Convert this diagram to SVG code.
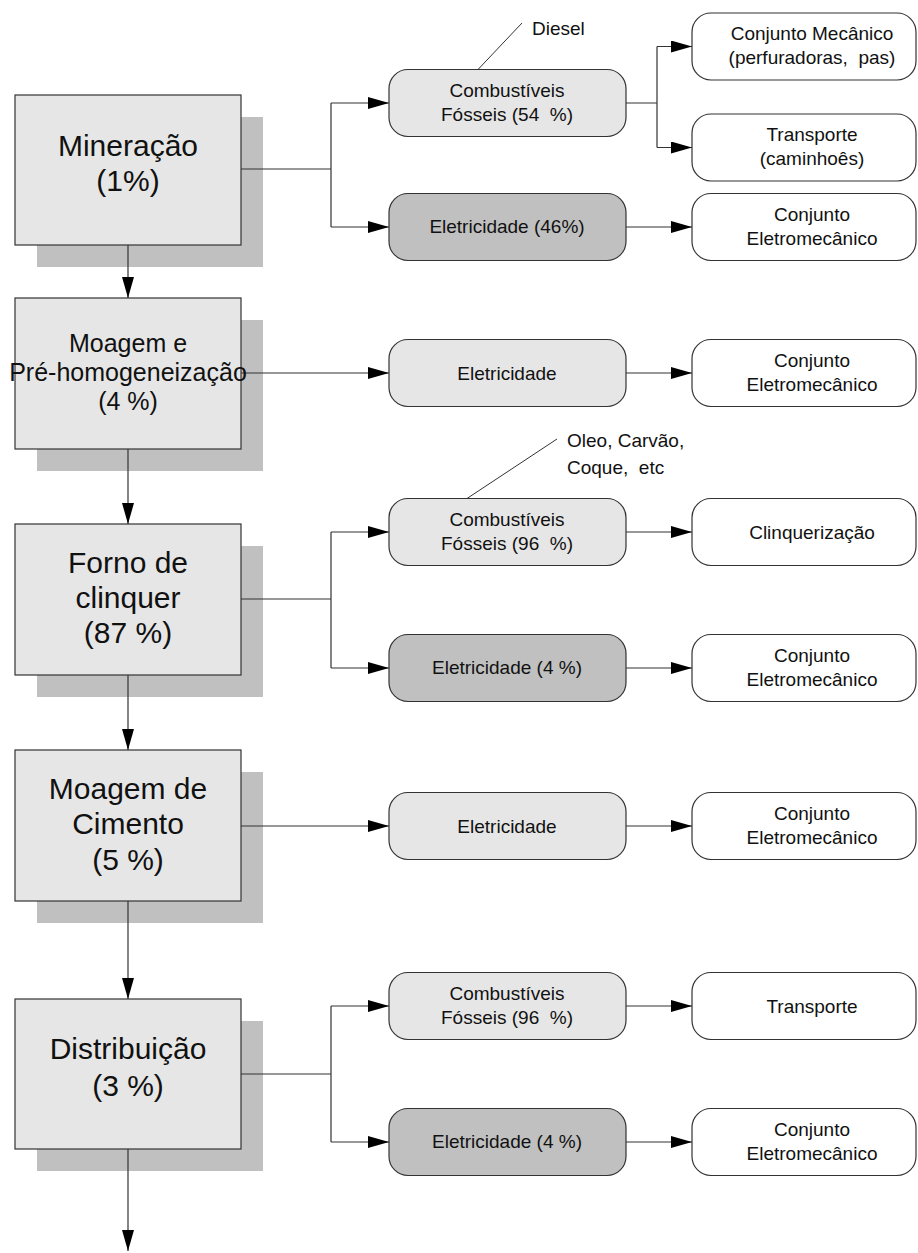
<svg xmlns="http://www.w3.org/2000/svg" width="918" height="1253" viewBox="0 0 918 1253">
  <style>
    text { font-family: "Liberation Sans", Arial, sans-serif; fill: #111; text-anchor: middle; }
    .big { font-size: 30px; }
    .mid { font-size: 25px; }
    .sm { font-size: 19px; }
    .note { font-size: 19px; text-anchor: start; }
    .shadow { fill: #c0c0c0; stroke: none; }
    .stage { fill: #e6e6e6; stroke: #333; stroke-width: 1.2; }
    .src { fill: #e6e6e6; stroke: #333; stroke-width: 1.2; }
    .srcdark { fill: #c0c0c0; stroke: #333; stroke-width: 1.2; }
    .use { fill: #fff; stroke: #333; stroke-width: 1.2; }
    .wire { fill: none; stroke: #333; stroke-width: 1.2; }
    .arrow { fill: none; stroke: #333; stroke-width: 1.2; marker-end: url(#tip); }
    .lead { fill: none; stroke: #333; stroke-width: 1; }
  </style>
  <defs>
    <marker id="tip" viewBox="0 0 21 12" refX="21" refY="6" markerWidth="21" markerHeight="12" markerUnits="userSpaceOnUse" orient="auto">
      <path d="M0,0 L21,6 L0,12 Z" fill="#000"/>
    </marker>
  </defs>

  <!-- stage shadows -->
  <g id="shadows">
    <rect class="shadow" x="37" y="117" width="226" height="150"/>
    <rect class="shadow" x="37" y="320" width="226" height="151"/>
    <rect class="shadow" x="37" y="546" width="226" height="151"/>
    <rect class="shadow" x="37" y="772" width="226" height="151"/>
    <rect class="shadow" x="37" y="1021" width="226" height="150"/>
  </g>

  <!-- connectors -->
  <g id="connectors">
    <!-- main flow -->
    <path class="arrow" d="M128,245 V298"/>
    <path class="arrow" d="M128,449 V524"/>
    <path class="arrow" d="M128,675 V750"/>
    <path class="arrow" d="M128,901 V999"/>
    <path class="arrow" d="M128,1149 V1251"/>

    <!-- Mineração -->
    <path class="wire" d="M241,169 H331 M331,103 V227"/>
    <path class="arrow" d="M331,103 H389"/>
    <path class="arrow" d="M331,227 H389"/>
    <path class="wire" d="M626,103 H657 M657,46.5 V147.5"/>
    <path class="arrow" d="M657,46.5 H692"/>
    <path class="arrow" d="M657,147.5 H692"/>
    <path class="arrow" d="M626,227 H692"/>

    <!-- Moagem e Pré-homogeneização -->
    <path class="arrow" d="M241,373 H389"/>
    <path class="arrow" d="M626,373 H692"/>

    <!-- Forno de clinquer -->
    <path class="wire" d="M241,599 H331 M331,532 V668"/>
    <path class="arrow" d="M331,532 H389"/>
    <path class="arrow" d="M331,668 H389"/>
    <path class="arrow" d="M626,532 H692"/>
    <path class="arrow" d="M626,668 H692"/>

    <!-- Moagem de Cimento -->
    <path class="arrow" d="M241,826 H389"/>
    <path class="arrow" d="M626,826 H692"/>

    <!-- Distribuição -->
    <path class="wire" d="M241,1074 H331 M331,1006 V1142"/>
    <path class="arrow" d="M331,1006 H389"/>
    <path class="arrow" d="M331,1142 H389"/>
    <path class="arrow" d="M626,1006 H692"/>
    <path class="arrow" d="M626,1142 H692"/>

    <!-- fuel notes -->
    <path class="lead" d="M478,69.5 L522,23"/>
    <path class="lead" d="M467,498.5 L557,439"/>
  </g>

  <!-- stages -->
  <g id="mineracao">
    <rect class="stage" x="15" y="95" width="226" height="150"/>
    <text class="big" x="128" y="156">Mineração</text>
    <text class="big" x="128" y="191">(1%)</text>
  </g>
  <g id="moagem-pre">
    <rect class="stage" x="15" y="298" width="226" height="151"/>
    <text class="mid" x="128" y="352">Moagem e</text>
    <text class="mid" x="128" y="381">Pré-homogeneização</text>
    <text class="mid" x="128" y="410">(4 %)</text>
  </g>
  <g id="forno">
    <rect class="stage" x="15" y="524" width="226" height="151"/>
    <text class="big" x="128" y="573">Forno de</text>
    <text class="big" x="128" y="608">clinquer</text>
    <text class="big" x="128" y="643">(87 %)</text>
  </g>
  <g id="moagem-cimento">
    <rect class="stage" x="15" y="750" width="226" height="151"/>
    <text class="big" x="128" y="799">Moagem de</text>
    <text class="big" x="128" y="834">Cimento</text>
    <text class="big" x="128" y="870">(5 %)</text>
  </g>
  <g id="distribuicao">
    <rect class="stage" x="15" y="999" width="226" height="150"/>
    <text class="big" x="128" y="1059">Distribuição</text>
    <text class="big" x="128" y="1096">(3 %)</text>
  </g>

  <!-- energy sources -->
  <g id="comb-1">
    <rect class="src" x="389" y="69.5" width="237" height="67" rx="19"/>
    <text class="sm" x="507" y="97">Combustíveis</text>
    <text class="sm" x="507" y="121" xml:space="preserve">Fósseis (54  %)</text>
  </g>
  <g id="elet-1">
    <rect class="srcdark" x="389" y="193.5" width="237" height="67" rx="19"/>
    <text class="sm" x="507" y="233">Eletricidade (46%)</text>
  </g>
  <g id="elet-2">
    <rect class="src" x="389" y="339.5" width="237" height="67" rx="19"/>
    <text class="sm" x="507" y="380">Eletricidade</text>
  </g>
  <g id="comb-3">
    <rect class="src" x="389" y="498.5" width="237" height="67" rx="19"/>
    <text class="sm" x="507" y="526">Combustíveis</text>
    <text class="sm" x="507" y="550" xml:space="preserve">Fósseis (96  %)</text>
  </g>
  <g id="elet-3">
    <rect class="srcdark" x="389" y="634.5" width="237" height="67" rx="19"/>
    <text class="sm" x="507" y="674">Eletricidade (4 %)</text>
  </g>
  <g id="elet-4">
    <rect class="src" x="389" y="792.5" width="237" height="67" rx="19"/>
    <text class="sm" x="507" y="833">Eletricidade</text>
  </g>
  <g id="comb-5">
    <rect class="src" x="389" y="972.5" width="237" height="67" rx="19"/>
    <text class="sm" x="507" y="1000">Combustíveis</text>
    <text class="sm" x="507" y="1024" xml:space="preserve">Fósseis (96  %)</text>
  </g>
  <g id="elet-5">
    <rect class="srcdark" x="389" y="1108.5" width="237" height="67" rx="19"/>
    <text class="sm" x="507" y="1148">Eletricidade (4 %)</text>
  </g>

  <!-- end uses -->
  <g id="uso-mecanico">
    <rect class="use" x="692" y="13" width="224" height="67" rx="19"/>
    <text class="sm" x="812" y="40">Conjunto Mecânico</text>
    <text class="sm" x="812" y="64" xml:space="preserve">(perfuradoras,  pas)</text>
  </g>
  <g id="uso-transporte-1">
    <rect class="use" x="692" y="114" width="224" height="67" rx="19"/>
    <text class="sm" x="812" y="141">Transporte</text>
    <text class="sm" x="812" y="165">(caminhoês)</text>
  </g>
  <g id="uso-eletromec-1">
    <rect class="use" x="692" y="193.5" width="224" height="67" rx="19"/>
    <text class="sm" x="812" y="221">Conjunto</text>
    <text class="sm" x="812" y="245">Eletromecânico</text>
  </g>
  <g id="uso-eletromec-2">
    <rect class="use" x="692" y="339.5" width="224" height="67" rx="19"/>
    <text class="sm" x="812" y="367">Conjunto</text>
    <text class="sm" x="812" y="391">Eletromecânico</text>
  </g>
  <g id="uso-clinquer">
    <rect class="use" x="692" y="498.5" width="224" height="67" rx="19"/>
    <text class="sm" x="812" y="539">Clinquerização</text>
  </g>
  <g id="uso-eletromec-3">
    <rect class="use" x="692" y="634.5" width="224" height="67" rx="19"/>
    <text class="sm" x="812" y="662">Conjunto</text>
    <text class="sm" x="812" y="686">Eletromecânico</text>
  </g>
  <g id="uso-eletromec-4">
    <rect class="use" x="692" y="792.5" width="224" height="67" rx="19"/>
    <text class="sm" x="812" y="820">Conjunto</text>
    <text class="sm" x="812" y="844">Eletromecânico</text>
  </g>
  <g id="uso-transporte-5">
    <rect class="use" x="692" y="972.5" width="224" height="67" rx="19"/>
    <text class="sm" x="812" y="1013">Transporte</text>
  </g>
  <g id="uso-eletromec-5">
    <rect class="use" x="692" y="1108.5" width="224" height="67" rx="19"/>
    <text class="sm" x="812" y="1136">Conjunto</text>
    <text class="sm" x="812" y="1160">Eletromecânico</text>
  </g>

  <!-- fuel notes -->
  <g id="nota-diesel">
    <text class="note" x="532" y="35">Diesel</text>
  </g>
  <g id="nota-oleo">
    <text class="note" x="567" y="447">Oleo, Carvão,</text>
    <text class="note" x="567" y="474" xml:space="preserve">Coque,  etc</text>
  </g>
</svg>
